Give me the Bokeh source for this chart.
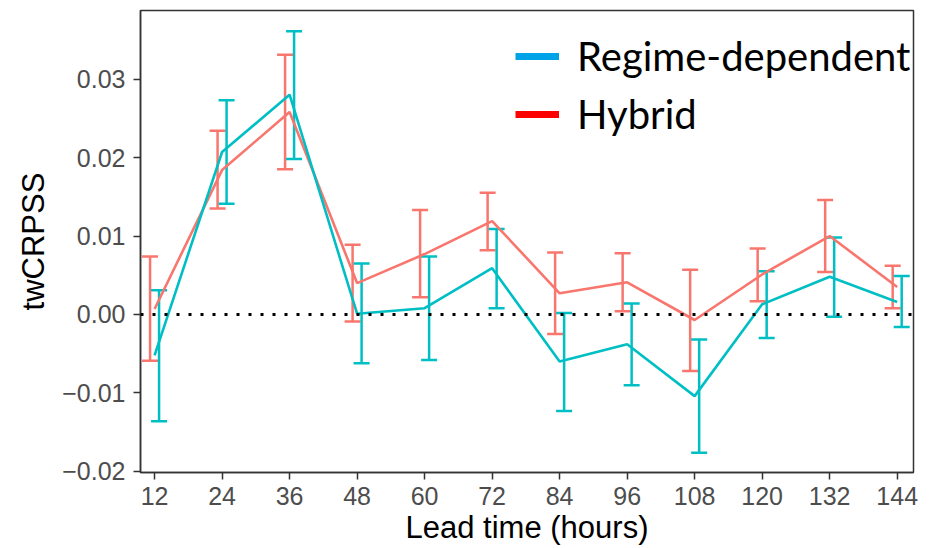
from bokeh.plotting import figure
from bokeh.models import (ColumnDataSource, Whisker, TeeHead, Span, FixedTicker,
                          Legend, LegendItem, Range1d)
from bokeh.transform import dodge
from bokeh.embed import file_html
from bokeh.resources import INLINE

# ---- data ----
lead = [12, 24, 36, 48, 60, 72, 84, 96, 108, 120, 132, 144]

hyb_mean  = [0.0007, 0.0184, 0.0258, 0.0040, 0.0077, 0.0119, 0.0027, 0.0041, -0.0007, 0.0051, 0.0100, 0.0035]
hyb_lower = [-0.0059, 0.0135, 0.0185, -0.0009, 0.0022, 0.0082, -0.0025, 0.0004, -0.0072, 0.0017, 0.0054, 0.0008]
hyb_upper = [0.0074, 0.0234, 0.0331, 0.0089, 0.0133, 0.0155, 0.0079, 0.0078, 0.0057, 0.0084, 0.0146, 0.0062]

reg_mean  = [-0.0052, 0.0207, 0.0280, 0.0001, 0.0008, 0.0059, -0.0060, -0.0038, -0.0104, 0.0013, 0.0048, 0.0016]
reg_lower = [-0.0136, 0.0141, 0.0198, -0.0062, -0.0058, 0.0008, -0.0123, -0.0090, -0.0176, -0.0030, -0.0003, -0.0016]
reg_upper = [0.0031, 0.0273, 0.0361, 0.0065, 0.0074, 0.0109, 0.0002, 0.0014, -0.0032, 0.0055, 0.0098, 0.0049]

x_ticks = lead
y_ticks = [-0.02, -0.01, 0.0, 0.01, 0.02, 0.03]
y_tick_labels = ["\u22120.02", "\u22120.01", "0.00", "0.01", "0.02", "0.03"]

legend_labels = ["Regime-dependent", "Hybrid"]

# ---- styles ----
RED = "#F8766D"
TEAL = "#00BFC4"
LEG_BLUE = "#00A2E8"
LEG_RED = "#FF0000"
DARK = "#333333"
TICK_GREY = "#4D4D4D"

p = figure(width=936, height=548, output_backend="svg", toolbar_location=None,
           x_range=Range1d(9.5, 146.9), y_range=Range1d(-0.02013, 0.03873),
           min_border_left=140, min_border_right=23, min_border_top=10, min_border_bottom=76)

p.background_fill_color = "white"
p.border_fill_color = "white"
p.outline_line_color = DARK
p.outline_line_width = 1.5
p.xgrid.visible = False
p.ygrid.visible = False

hyb = ColumnDataSource(dict(lead=lead, mean=hyb_mean, lower=hyb_lower, upper=hyb_upper))
reg = ColumnDataSource(dict(lead=lead, mean=reg_mean, lower=reg_lower, upper=reg_upper))

# zero reference line
p.add_layout(Span(location=0, dimension="width", line_color="black",
                  line_width=3, line_dash="3 9"))

for src, col, off in ((hyb, RED, -0.8), (reg, TEAL, 0.8)):
    p.line("lead", "mean", source=src, line_color=col, line_width=2.6)
    w = Whisker(source=src, base=dodge("lead", off), upper="upper", lower="lower",
                line_color=col, line_width=2.5,
                upper_head=TeeHead(size=16, line_color=col, line_width=2.5),
                lower_head=TeeHead(size=16, line_color=col, line_width=2.5))
    p.add_layout(w)

# legend (dummy renderers with legend colours; NaN data so nothing is drawn in the plot)
nan = float("nan")
r_blue = p.line(x=[nan], y=[nan], line_color=LEG_BLUE, line_width=7)
r_red = p.line(x=[nan], y=[nan], line_color=LEG_RED, line_width=7)
leg = Legend(items=[LegendItem(label=legend_labels[0], renderers=[r_blue], index=0),
                    LegendItem(label=legend_labels[1], renderers=[r_red], index=0)],
             location=(375, 334), border_line_color=None, background_fill_alpha=0,
             label_text_font="Lato", label_text_font_size="40px", label_text_color="black",
             glyph_width=44, glyph_height=20, label_standoff=18, spacing=10,
             padding=0, margin=0)
p.add_layout(leg)

# axes
for ax in (p.xaxis[0], p.yaxis[0]):
    ax.axis_line_color = DARK
    ax.axis_line_width = 1.5
    ax.major_tick_line_color = DARK
    ax.major_tick_line_width = 1.5
    ax.major_tick_out = 7
    ax.major_tick_in = 0
    ax.minor_tick_line_color = None
    ax.major_label_text_font = "Liberation Sans"
    ax.major_label_text_font_size = "25px"
    ax.major_label_text_color = TICK_GREY
    ax.axis_label_text_font = "Liberation Sans"
    ax.axis_label_text_font_size = "31px"
    ax.axis_label_text_font_style = "normal"
    ax.axis_label_text_color = "black"

p.xaxis.ticker = FixedTicker(ticks=x_ticks)
p.yaxis.ticker = FixedTicker(ticks=y_ticks)
p.yaxis.major_label_overrides = {t: l for t, l in zip(y_ticks, y_tick_labels)}
p.xaxis.axis_label = "Lead time (hours)"
p.yaxis.axis_label = "twCRPSS"
p.xaxis.major_label_standoff = 7
p.yaxis.major_label_standoff = 8
p.xaxis.axis_label_standoff = 2
p.yaxis.axis_label_standoff = 8

open("out.html", "w").write(file_html(p, INLINE))
